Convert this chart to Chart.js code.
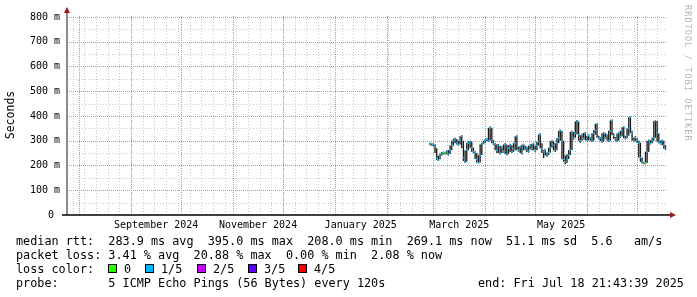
<!DOCTYPE html>
<html><head><meta charset="utf-8">
<script src="https://cdn.jsdelivr.net/npm/chart.js@4.4.1/dist/chart.umd.min.js"></script>
<style>
html,body{margin:0;padding:0;background:#fff;}
#wrap{position:relative;width:697px;height:297px;overflow:hidden;background:#fff;}
canvas{position:absolute;left:0;top:0;}
.t{position:absolute;font-family:'DejaVu Sans Mono',monospace;font-size:11.8px;line-height:14px;white-space:pre;color:#000;}
.box{position:absolute;width:7px;height:7px;border:1px solid #000;}
.wm{position:absolute;left:683px;top:5px;font-family:'DejaVu Sans Mono',monospace;font-size:8.5px;letter-spacing:1.1px;color:#b4b4b4;writing-mode:vertical-rl;white-space:pre;}
</style></head><body>
<div id="wrap"><canvas id="c" width="697" height="297"></canvas></div>
<script>
// ---- data (ms), one value per day starting at firstDay ----
const firstDay = [2025, 1, 27]; // 27 Feb 2025
const median = [
288,287,285,282,228,222,240,248,252,250,
255,246,262,282,300,307,292,285,302,318,
232,215,262,290,296,272,256,250,226,212,
242,286,292,300,306,300,352,302,290,286,
262,280,250,272,258,285,246,270,282,255,
268,290,318,262,276,250,284,266,272,258,
280,270,288,262,280,296,325,270,255,262,
242,252,272,298,282,262,290,310,340,300,
225,215,226,242,262,335,312,330,378,325,
300,322,310,332,302,320,310,300,330,342,
368,312,310,298,330,312,322,300,340,382,
322,308,300,330,318,340,355,310,320,350,
395,332,300,312,302,292,232,215,210,210,
255,300,290,302,312,380,330,296,290,300,
282,268];
const low = [
282,280,278,250,222,218,225,240,245,244,
245,240,246,262,280,290,285,280,285,270,
218,210,215,262,272,256,250,226,212,208,
212,242,286,290,298,296,300,290,284,262,
250,250,244,250,252,246,240,246,255,250,
255,262,262,256,250,244,262,262,255,252,
266,262,262,256,262,280,270,250,230,240,
235,242,252,272,260,255,262,290,300,225,
215,205,210,226,242,262,305,312,325,300,
292,300,305,302,298,302,300,295,300,325,
312,305,298,292,298,308,300,295,300,322,
308,300,295,300,312,318,310,305,310,320,
332,300,295,300,292,232,215,208,205,205,
210,255,285,290,300,312,296,290,285,282,
268,262];
const high = [
292,290,289,286,270,240,248,255,256,256,
262,262,282,300,308,312,307,300,318,322,
300,262,292,298,300,296,272,258,250,242,
286,292,300,306,310,352,358,352,302,290,
286,286,280,278,285,290,285,282,288,282,
290,318,322,276,280,284,288,280,276,280,
286,288,292,280,296,325,330,290,262,268,
252,272,298,302,298,290,310,340,345,340,
300,240,245,262,335,340,335,378,384,378,
322,328,332,336,320,325,315,330,342,368,
372,320,315,330,335,330,326,340,382,386,
330,315,330,334,340,355,360,320,350,395,
398,340,312,318,310,300,292,232,215,255,
300,305,302,312,380,384,380,330,300,305,
300,282];
const loss = [
1,1,1,1,1,1,1,1,0,0,
1,1,1,1,1,1,1,1,1,1,
1,1,1,1,1,1,1,1,1,1,
1,1,1,1,1,1,1,1,1,1,
1,1,1,1,1,1,1,1,1,1,
1,1,1,1,1,1,1,1,1,1,
1,1,1,1,1,1,1,1,1,1,
1,1,1,1,1,1,1,1,1,1,
1,1,1,1,1,1,1,1,1,1,
1,1,1,1,1,1,1,1,1,1,
1,1,1,1,1,1,1,1,1,1,
1,1,1,1,1,1,1,1,1,1,
1,1,1,1,1,1,1,1,0,0,
1,1,1,1,1,1,1,1,1,1,
1,1];
const lossColors = ['#26ff00','#00b8ff','#c800ff','#5e00ff','#ff0000'];
const lossNames = ['0','1/5','2/5','3/5','4/5'];
const yMajor = [0,100,200,300,400,500,600,700,800];
const yMinor = [50,150,250,350,450,550,650,750];
const monthLabels = ['September 2024','November 2024','January 2025','March 2025','May 2025'];
const labelMonths = [[2024,8],[2024,10],[2025,0],[2025,2],[2025,4]];
const endStamp = [2025,6,18,21,43,39];
const legendLines = [
 'median rtt:  283.9 ms avg  395.0 ms max  208.0 ms min  269.1 ms now  51.1 ms sd  5.6   am/s',
 'packet loss: 3.41 % avg  20.88 % max  0.00 % min  2.08 % now',
 'loss color:',
 'probe:       5 ICMP Echo Pings (56 Bytes) every 120s'
];
const endText = 'end: Fri Jul 18 21:43:39 2025';
const watermark = 'RRDTOOL / TOBI OETIKER';

// ---- helpers ----
const DAY = 86400000, ORIGIN = Date.UTC(2024,7,1);
const dayOf = (y,m,d) => (Date.UTC(y,m,d) - ORIGIN) / DAY;
const xMax = (Date.UTC(...endStamp) - ORIGIN) / DAY;
const xMin = xMax - 359.3;
const d0 = dayOf(...firstDay);

const rangeData = median.map((v,i)=>({x:d0+i, y:[low[i],high[i]]}));
const medData = median.map((v,i)=>({x:d0+i, y:v}));
const ptColors = loss.map(l=>lossColors[l]);

// x ticks: weekly (Sundays), month starts, label positions
const weekDays = [], monthDays = [], xTicks = [];
for (let d = dayOf(2024,6,28); d <= xMax; d += 7) if (d >= xMin) weekDays.push(d);
for (let k = 0; k < 13; k++) { const d = dayOf(2024,7+k,1); if (d>=xMin && d<=xMax) monthDays.push(d); }
labelMonths.forEach((ym,i)=>{ const a = dayOf(ym[0],ym[1],1), b = dayOf(ym[0],ym[1]+1,1); xTicks.push({value:(a+b)/2, label:monthLabels[i]}); });

const RED = 'rgb(236,130,130)', GRAY = 'rgb(200,200,200)';
const MONO = "'DejaVu Sans Mono', monospace";

const gridPlugin = {
  id:'rrdgrid',
  beforeDatasetsDraw(chart){
    const c = chart.ctx, a = chart.chartArea, xs = chart.scales.x, ys = chart.scales.y;
    const L = Math.round(a.left), R = Math.round(a.right), T = Math.round(a.top), B = Math.round(a.bottom);
    c.save();
    c.lineWidth = 1;
    const vline = (d)=>{ const x = Math.round(xs.getPixelForValue(d)) + 0.5; c.beginPath(); c.moveTo(x, B); c.lineTo(x, T); c.stroke(); };
    const hline = (v)=>{ const y = Math.round(ys.getPixelForValue(v)) + 0.5; c.beginPath(); c.moveTo(L, y); c.lineTo(R, y); c.stroke(); };
    c.setLineDash([1,2]); c.strokeStyle = GRAY;
    weekDays.forEach(vline); yMinor.forEach(hline);
    c.setLineDash([1,1]); c.strokeStyle = RED;
    monthDays.forEach(vline); yMajor.filter(v=>v>0).forEach(hline);
    c.restore();
  }
};

const decor = {
  id:'decor',
  afterDraw(chart){
    const c = chart.ctx, a = chart.chartArea;
    c.save();
    c.strokeStyle = '#666'; c.lineWidth = 1.5;
    c.beginPath(); c.moveTo(a.left, a.bottom); c.lineTo(a.left, a.top - 2); c.stroke();
    c.strokeStyle = '#000'; c.lineWidth = 1.5;
    c.beginPath(); c.moveTo(a.left - 5, a.bottom); c.lineTo(a.right + 4, a.bottom); c.stroke();
    c.fillStyle = '#9a1a1a';
    c.beginPath(); c.moveTo(a.left - 3, a.top - 2); c.lineTo(a.left + 3, a.top - 2); c.lineTo(a.left, a.top - 8); c.closePath(); c.fill();
    c.beginPath(); c.moveTo(a.right + 3, a.bottom - 3); c.lineTo(a.right + 3, a.bottom + 3); c.lineTo(a.right + 9, a.bottom); c.closePath(); c.fill();
    c.restore();
  }
};

new Chart(document.getElementById('c'), {
  type:'line',
  data:{datasets:[
    {type:'line', data:medData, showLine:false, pointRadius:1.1, pointHoverRadius:1.1, pointStyle:'rect',
     pointBackgroundColor:ptColors, pointBorderWidth:0, order:1},
    {type:'bar', data:rangeData, backgroundColor:'#1c1c1c', borderWidth:0, barPercentage:0.8, categoryPercentage:1, grouped:false, order:2}
  ]},
  options:{
    responsive:false, animation:false, devicePixelRatio:1,
    layout:{padding:{left:0, top:15, right:30, bottom:62}},
    plugins:{legend:{display:false}, tooltip:{enabled:false}},
    scales:{
      x:{type:'linear', min:xMin, max:xMax, offset:false,
        afterBuildTicks:s=>{ s.ticks = xTicks.map(t=>({value:t.value})); },
        afterFit:s=>{ s.height = 20; },
        grid:{display:false, offset:false, drawTicks:false},
        border:{display:false},
        ticks:{autoSkip:false, maxRotation:0, minRotation:0, padding:4, color:'#000',
          font:{family:MONO, size:10}, callback:(v,i)=>xTicks[i]?xTicks[i].label:''}
      },
      y:{type:'linear', min:0, max:808,
        afterBuildTicks:s=>{ s.ticks = yMajor.map(v=>({value:v})); },
        afterFit:s=>{ s.width = 67; },
        grid:{display:false, drawTicks:false},
        border:{display:false},
        ticks:{autoSkip:false, padding:7, color:'#000', font:{family:MONO, size:10},
          callback:(v)=> v===0 ? '0 ' : (v+' m')},
        title:{display:true, text:'Seconds', color:'#000', font:{family:MONO, size:11.5}, padding:4}
      }
    }
  },
  plugins:[gridPlugin, decor]
});

// ---- legend text (HTML) ----
const wrap = document.getElementById('wrap');
const addDiv = (cls, style, text) => { const d = document.createElement('div'); d.className = cls; d.setAttribute('style', style); if (text!==undefined) d.textContent = text; wrap.appendChild(d); return d; };
legendLines.forEach((s,i)=> addDiv('t', `left:16px;top:${234+14*i}px`, s));
addDiv('t', 'left:478px;top:276px', endText);
const boxX = [108,145,197,248,298];
lossNames.forEach((n,i)=>{
  addDiv('box', `left:${boxX[i]}px;top:264px;background:${lossColors[i]}`);
  addDiv('t', `left:${boxX[i]+16}px;top:262px`, n);
});
addDiv('wm', '', watermark);
</script>
</body></html>
